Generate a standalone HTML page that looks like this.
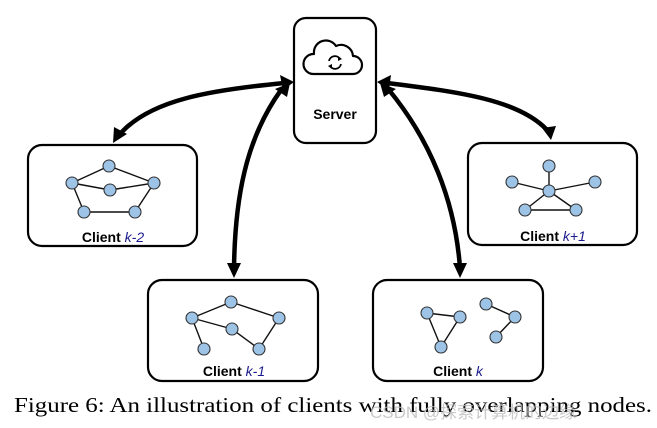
<!DOCTYPE html>
<html><head><meta charset="utf-8"><style>
html,body{margin:0;padding:0;background:#fff;}
svg{display:block}
</style></head><body>
<svg width="657" height="428" viewBox="0 0 657 428" xmlns="http://www.w3.org/2000/svg">
<defs>
<marker id="ah" markerWidth="10" markerHeight="10" refX="6" refY="5" orient="auto" markerUnits="userSpaceOnUse" viewBox="0 0 10 10">
<path d="M0,0 L10,5 L0,10 z" fill="#000"/>
</marker>
</defs>
<g fill="none" stroke="#000" stroke-width="2.2">
<rect x="294" y="18" width="82" height="125" rx="12"/>
<rect x="28" y="145" width="169" height="101" rx="14"/>
<rect x="468" y="143" width="169" height="102" rx="14"/>
<rect x="148" y="280" width="170" height="101" rx="14"/>
<rect x="373" y="280" width="170" height="101" rx="14"/>
</g>
<!-- cloud -->
<g fill="none" stroke="#000" stroke-width="2.2" stroke-linejoin="round">
<path d="M313,74 h40 a9,9 0 0 0 0,-18 a12,12 0 0 0 -17,-10 a12,12 0 0 0 -22,8 a10,10 0 0 0 -1,20 z"/>
<path d="M329,61 a6,6 0 0 1 11,-2" stroke-width="1.8"/>
<path d="M341,64 a6,6 0 0 1 -11,2" stroke-width="1.8"/>
</g>
<path d="M338,56 l4,3 l-4,2 z M332,69 l-4,-3 l4,-2 z" fill="#000"/>
<!-- arrows -->
<g fill="none" stroke="#000" stroke-width="4.5" stroke-linecap="round">
<path d="M285,83 C210,90 150,100 120,134"/>
<path d="M281,90 C245,140 235,200 234,268"/>
<path d="M387,83 C460,92 520,100 548,131"/>
<path d="M389,90 C430,140 455,200 460,268"/>
</g>
<g fill="#000">
<path d="M294,82 L280,75 L283,90 z"/>
<path d="M113,143 L114,127 L127,134 z"/>
<path d="M290,83 L275,89 L287,97 z"/>
<path d="M234,278 L227,263 L241,263 z"/>
<path d="M377,82 L391,75 L389,90 z"/>
<path d="M551,140 L542,128 L556,126 z"/>
<path d="M380,83 L384,97 L396,89 z"/>
<path d="M460,278 L453,263 L467,263 z"/>
</g>
<!-- graphs -->
<g stroke="#111" stroke-width="1.4">
<line x1="72" y1="183" x2="109" y2="166"/><line x1="109" y1="166" x2="154" y2="183"/>
<line x1="72" y1="183" x2="110" y2="190"/><line x1="110" y1="190" x2="154" y2="183"/>
<line x1="72" y1="183" x2="84" y2="212"/><line x1="84" y1="212" x2="135" y2="212"/><line x1="135" y1="212" x2="154" y2="183"/>
<line x1="549" y1="166" x2="549" y2="191"/><line x1="512" y1="182" x2="549" y2="191"/><line x1="595" y1="182" x2="549" y2="191"/>
<line x1="525" y1="210" x2="549" y2="191"/><line x1="576" y1="210" x2="549" y2="191"/><line x1="525" y1="210" x2="576" y2="210"/>
<line x1="192" y1="318" x2="231" y2="302"/><line x1="231" y1="302" x2="279" y2="318"/>
<line x1="192" y1="318" x2="232" y2="329"/><line x1="232" y1="329" x2="259" y2="349"/><line x1="259" y1="349" x2="279" y2="318"/>
<line x1="192" y1="318" x2="204" y2="349"/>
<line x1="427" y1="313" x2="460" y2="317"/><line x1="460" y1="317" x2="441" y2="347"/><line x1="441" y1="347" x2="427" y2="313"/>
<line x1="486" y1="304" x2="515" y2="317"/><line x1="515" y1="317" x2="496" y2="337"/>
</g>
<g fill="#9dc3e6" stroke="#333" stroke-width="1.1">
<circle cx="72" cy="183" r="6"/><circle cx="109" cy="166" r="6"/><circle cx="110" cy="190" r="6"/><circle cx="154" cy="183" r="6"/><circle cx="84" cy="212" r="6"/><circle cx="135" cy="212" r="6"/>
<circle cx="549" cy="166" r="6"/><circle cx="512" cy="182" r="6"/><circle cx="595" cy="182" r="6"/><circle cx="549" cy="191" r="6"/><circle cx="525" cy="210" r="6"/><circle cx="576" cy="210" r="6"/>
<circle cx="192" cy="318" r="6"/><circle cx="231" cy="302" r="6"/><circle cx="232" cy="329" r="6"/><circle cx="279" cy="318" r="6"/><circle cx="204" cy="349" r="6"/><circle cx="259" cy="349" r="6"/>
<circle cx="427" cy="313" r="6"/><circle cx="460" cy="317" r="6"/><circle cx="441" cy="347" r="6"/>
<circle cx="486" cy="304" r="6"/><circle cx="515" cy="317" r="6"/><circle cx="496" cy="337" r="6"/>
</g>
<g font-family="Liberation Sans, sans-serif" font-size="14" font-weight="bold" fill="#000" text-anchor="middle">
<text x="335" y="119">Server</text>
<text x="113" y="242">Client <tspan font-style="italic" font-weight="normal" fill="#1a1a8c">k-2</tspan></text>
<text x="553" y="241">Client <tspan font-style="italic" font-weight="normal" fill="#1a1a8c">k+1</tspan></text>
<text x="234" y="376">Client <tspan font-style="italic" font-weight="normal" fill="#1a1a8c">k-1</tspan></text>
<text x="458" y="376">Client <tspan font-style="italic" font-weight="normal" fill="#1a1a8c">k</tspan></text>
</g>
<text x="14" y="412" font-family="Liberation Serif, serif" font-size="21" fill="#000" textLength="638" lengthAdjust="spacingAndGlyphs">Figure 6: An illustration of clients with fully overlapping nodes.</text>
<text x="370" y="418" font-family="Liberation Sans, 'Noto Sans CJK SC', sans-serif" font-size="17" fill="#bbb" fill-opacity="0.8">CSDN @探索计算机的边缘</text>
</svg>
</body></html>
